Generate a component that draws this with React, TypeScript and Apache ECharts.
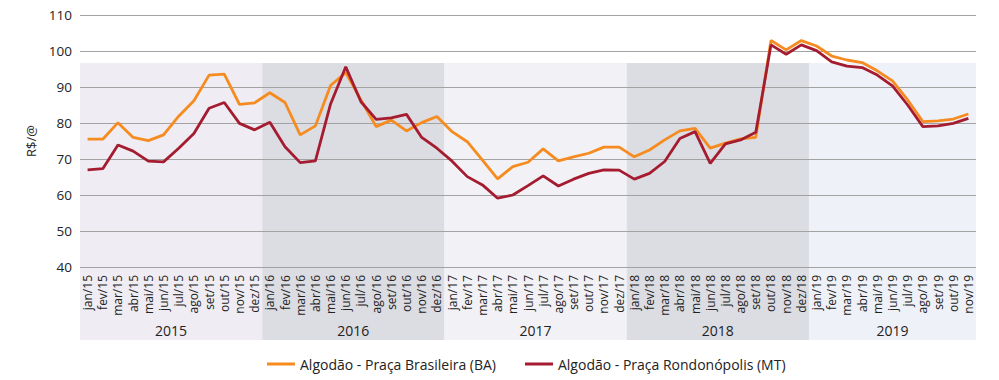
import React, { useEffect, useRef } from "react";
import * as echarts from "echarts";

const months = [
  "jan/15","fev/15","mar/15","abr/15","mai/15","jun/15","jul/15","ago/15","set/15","out/15","nov/15","dez/15",
  "jan/16","fev/16","mar/16","abr/16","mai/16","jun/16","jul/16","ago/16","set/16","out/16","nov/16","dez/16",
  "jan/17","fev/17","mar/17","abr/17","mai/17","jun/17","jul/17","ago/17","set/17","out/17","nov/17","dez/17",
  "jan/18","fev/18","mar/18","abr/18","mai/18","jun/18","jul/18","ago/18","set/18","out/18","nov/18","dez/18",
  "jan/19","fev/19","mar/19","abr/19","mai/19","jun/19","jul/19","ago/19","set/19","out/19","nov/19",
];

const brasileira = [
  75.5, 75.5, 80.1, 76.0, 75.1, 76.7, 81.9, 86.2, 93.3, 93.6, 85.2, 85.6,
  88.4, 85.7, 76.7, 79.2, 90.4, 94.0, 86.4, 79.0, 80.8, 77.8, 80.1, 81.8,
  77.6, 74.8, 69.7, 64.5, 67.9, 69.1, 72.8, 69.5, 70.6, 71.6, 73.3, 73.3,
  70.6, 72.5, 75.3, 77.8, 78.5, 73.0, 74.4, 75.6, 76.0, 102.9, 100.3, 102.9,
  101.4, 98.6, 97.5, 96.8, 94.5, 91.7, 86.4, 80.4, 80.6, 81.1, 82.5,
];

const rondonopolis = [
  67.0, 67.3, 73.9, 72.2, 69.4, 69.2, 73.0, 77.1, 84.1, 85.7, 79.9, 78.1,
  80.2, 73.4, 69.0, 69.5, 85.3, 95.6, 85.9, 81.0, 81.4, 82.4, 76.0, 73.0,
  69.4, 65.1, 62.8, 59.1, 60.0, 62.6, 65.3, 62.5, 64.4, 66.0, 67.0, 66.9,
  64.4, 66.0, 69.3, 75.7, 77.6, 68.8, 74.2, 75.3, 77.4, 101.7, 99.1, 101.7,
  100.1, 97.0, 95.8, 95.4, 93.3, 90.3, 85.0, 79.0, 79.2, 79.9, 81.3,
];

const years = ["2015", "2016", "2017", "2018", "2019"];
const yearStart = [0, 12, 24, 36, 48];
const yearEnd = [11, 23, 35, 47, 58];
const bandColors = ["#efedf3", "#dcdce3", "#f2f1f6", "#dcdce3", "#eef1f7"];

const seriesNames = [
  "Algodão - Praça Brasileira (BA)",
  "Algodão - Praça Rondonópolis (MT)",
];
const seriesColors = ["#f68b1f", "#a51c30"];

const FONT = "Open Sans";

export default function App() {
  const ref = useRef<HTMLDivElement>(null);

  useEffect(() => {
    if (!ref.current) return;
    const chart = echarts.init(ref.current, null, { renderer: "svg" });
    chart.setOption({
      animation: false,
      textStyle: { fontFamily: FONT },
      grid: { left: 72, right: 15, top: 15, height: 252, containLabel: false },
      legend: {
        top: 352,
        left: 254,
        itemWidth: 28,
        itemHeight: 3,
        itemGap: 29,
        icon: "rect",
        textStyle: { fontFamily: FONT, fontSize: 14, color: "#222" },
        data: seriesNames,
      },
      xAxis: {
        type: "category",
        data: months,
        boundaryGap: true,
        axisLine: { show: false },
        axisTick: { show: false },
        axisLabel: {
          rotate: 90,
          interval: 0,
          margin: 8,
          fontSize: 12,
          fontFamily: FONT,
          color: "#222",
        },
      },
      yAxis: {
        type: "value",
        min: 40,
        max: 110,
        interval: 10,
        name: "R$/@",
        nameLocation: "middle",
        nameGap: 42,
        nameTextStyle: { fontFamily: FONT, fontSize: 13, color: "#222" },
        axisLine: { show: false },
        axisTick: { show: false },
        axisLabel: { fontSize: 13.5, fontFamily: FONT, color: "#222", margin: 8 },
        splitLine: { lineStyle: { color: "#a3a3a3", width: 1.2 } },
      },
      series: [
        {
          name: seriesNames[0],
          type: "line",
          data: brasileira,
          symbol: "none",
          lineStyle: { color: seriesColors[0], width: 2.8 },
          itemStyle: { color: seriesColors[0] },
          z: 3,
        },
        {
          name: seriesNames[1],
          type: "line",
          data: rondonopolis,
          symbol: "none",
          lineStyle: { color: seriesColors[1], width: 2.8 },
          itemStyle: { color: seriesColors[1] },
          z: 4,
        },
      ],
    });

    const p0 = chart.convertToPixel({ xAxisIndex: 0 }, 0) as number;
    const p1 = chart.convertToPixel({ xAxisIndex: 0 }, 1) as number;
    const w = p1 - p0;
    const bandTop = chart.convertToPixel({ yAxisIndex: 0 }, 96.7) as number;
    const axisBottom = chart.convertToPixel({ yAxisIndex: 0 }, 40) as number;
    const bandBottom = axisBottom + 73;
    const elements: any[] = [];
    years.forEach((yr, k) => {
      const left = (chart.convertToPixel({ xAxisIndex: 0 }, yearStart[k]) as number) - w / 2;
      const right = (chart.convertToPixel({ xAxisIndex: 0 }, yearEnd[k]) as number) + w / 2;
      elements.push({
        type: "rect",
        z: -10,
        silent: true,
        shape: { x: left, y: bandTop, width: right - left, height: bandBottom - bandTop },
        style: { fill: bandColors[k] },
      });
      elements.push({
        type: "text",
        z: 10,
        silent: true,
        x: (left + right) / 2,
        y: axisBottom + 63,
        style: {
          text: yr,
          fill: "#222",
          font: `14px "${FONT}"`,
          align: "center",
          verticalAlign: "middle",
        },
      });
    });
    chart.setOption({ graphic: { elements } });

    return () => chart.dispose();
  }, []);

  return <div ref={ref} style={{ width: 983, height: 380, marginTop: -8 }} />;
}
